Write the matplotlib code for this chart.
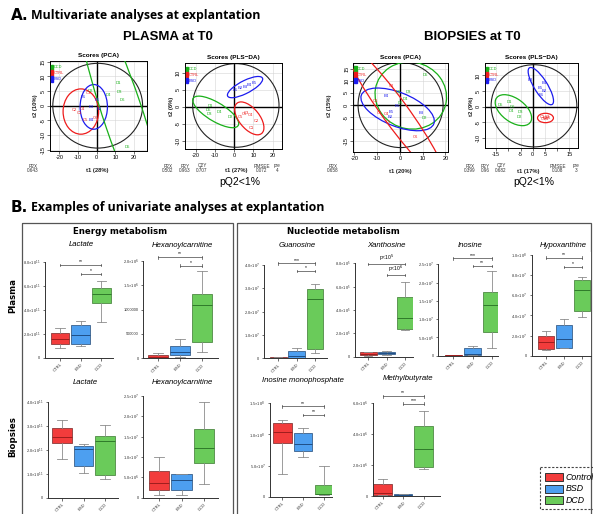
import matplotlib
matplotlib.use("Agg")
import matplotlib.pyplot as plt
from matplotlib.patches import Ellipse, Rectangle

W, H = 593, 514
fig = plt.figure(figsize=(W / 100, H / 100), dpi=100)
plt.rcParams['font.family'] = ['Liberation Sans', 'DejaVu Sans']

def R(x0, y0, x1, y1):
    return [x0 / W, 1 - y1 / H, (x1 - x0) / W, (y1 - y0) / H]

def T(x, y, s, **kw):
    fig.text(x / W, 1 - y / H, s, **kw)

GREEN_T, RED_T, BLUE_T = '#19b019', '#ee1c1c', '#1c1cee'

# ---------------- score plot data ----------------
# Plasma PCA
pp_D_x = [11.6, 12.0, 6.2, 13.8, 16.6, -3.4]
pp_D_y = [7.7, 4.8, 3.6, 2.0, -14.0, 5.2]
pp_D_l = ['D1', 'D3', 'D4', 'D6', 'D5', 'D2']
pp_C_x = [-4.5, -12.0, -7.7, -9.3, -6.3, -0.5]
pp_C_y = [4.4, -1.4, -1.0, -2.4, -4.8, -4.2]
pp_C_l = ['C3', 'C2', 'C4', 'C1', 'C5', 'C6']
pp_B_x = [-7.1, 0.0, -3.2, 1.4, -3.0]
pp_B_y = [3.0, 1.8, -0.6, -1.2, -4.8]
pp_B_l = ['B1', 'B5', 'B3', 'B2', 'B4']
# Plasma PLS-DA
pl_D_x = [-12.3, -13.5, -12.9, -7.9, -1.9]
pl_D_y = [0.3, -1.0, -2.2, -1.6, -3.0]
pl_D_l = ['D1', 'D5', 'D3', 'D4', 'D2']
pl_C_x = [3.0, 5.2, 8.4, 11.5, 8.9, 6.3]
pl_C_y = [-2.9, -2.0, -2.5, -4.2, -6.1, -1.7]
pl_C_l = ['C5', 'C6', 'C4', 'C2', 'C1', 'C3']
pl_B_x = [0.5, 3.0, 5.5, 8.0, 10.5]
pl_B_y = [4.8, 5.4, 5.9, 6.4, 7.0]
pl_B_l = ['B1', 'B2', 'B3', 'B4', 'B5']
# Biopsies PCA
bp_D_x = [11.0, -0.5, 3.5, 2.5, 0.0, 10.7]
bp_D_y = [12.4, 5.5, 5.3, 2.5, 0.8, -5.2]
bp_D_l = ['D5', 'D1', 'D3', 'D4', 'D6', 'D2']
bp_C_x = [-3.7, -10.6, -9.1, -5.9, -4.9, 7.0]
bp_C_y = [7.7, 1.8, -3.1, -3.8, -7.0, -13.0]
bp_C_l = ['C2', 'C1', 'C3', 'C4', 'C5', 'C6']
bp_B_x = [-5.9, -1.2, -4.0, -4.1, 9.3]
bp_B_y = [3.7, -0.6, -2.7, -4.9, -3.1]
bp_B_l = ['B4', 'B1', 'B5', 'B2', 'B3']
# Biopsies PLS-DA
bl_D_x = [-9.7, -13.1, -8.5, -8.7, -4.9, -5.6]
bl_D_y = [1.6, 0.4, -0.2, -1.4, -1.6, -3.4]
bl_D_l = ['D1', 'D5', 'D6', 'D4', 'D3', 'D2']
bl_C_x = [4.0, 5.0, 6.0, 5.5, 4.5, 6.5]
bl_C_y = [-3.2, -3.6, -3.3, -4.0, -3.9, -3.6]
bl_C_l = ['C1', 'C2', 'C3', 'C4', 'C5', 'C6']
bl_B_x = [-1.0, 4.5, 3.0, 4.5, 3.5]
bl_B_y = [8.5, 7.5, 6.0, 5.0, 3.8]
bl_B_l = ['B3', 'B4', 'B5', 'B2', 'B1']


def score_plot(rect_px, xlim, ylim, xticks, xtl, yticks, ytl, black, ells, groups, title):
    ax = fig.add_axes(R(*rect_px))
    ax.set_xlim(xlim)
    ax.set_ylim(ylim)
    for t in xticks:
        ax.axvline(t, color='#d4d4d4', lw=0.4, zorder=0)
    for t in yticks:
        ax.axhline(t, color='#d4d4d4', lw=0.4, zorder=0)
    ax.axhline(0, color='k', lw=1.0, zorder=1)
    ax.axvline(0, color='k', lw=1.0, zorder=1)
    cx, cy, w, h = black
    ax.add_patch(Ellipse((cx, cy), w, h, fill=False, ec='#222222', lw=0.8, zorder=2))
    for (ex, ey, ew, eh, ea, col) in ells:
        ax.add_patch(Ellipse((ex, ey), ew, eh, angle=ea, fill=False, ec=col, lw=0.9, zorder=3))
    for (xs, ys, ls, col) in groups:
        for x, y, l in zip(xs, ys, ls):
            ax.text(x, y, l, color=col, fontsize=3.0, ha='center', va='center', zorder=4)
    ax.set_xticks(xticks)
    ax.set_xticklabels(xtl, fontsize=4)
    ax.set_yticks(yticks)
    ax.set_yticklabels(ytl, fontsize=4, rotation=90, va='center')
    ax.tick_params(length=2, width=0.4, pad=1)
    for s in ax.spines.values():
        s.set_linewidth(0.7)
    ax.set_title(title, fontsize=4.6, fontweight='bold', pad=3)
    for i, (lab, col) in enumerate([('DCD', GREEN_T), ('CTRL', RED_T), ('BSD', BLUE_T)]):
        ax.add_patch(Rectangle((0.01, 0.90 - 0.065 * i), 0.025, 0.06, transform=ax.transAxes,
                               color=col, zorder=5))
        ax.text(0.04, 0.93 - 0.065 * i, lab, color=col, fontsize=2.8, transform=ax.transAxes,
                va='center', zorder=5)
    return ax

pca_xt = [-20, -10, 0, 10, 20]
score_plot((50, 61, 146.7, 151), (-25, 26.7), (-15.5, 15.3), pca_xt, [str(v) for v in pca_xt],
           [-15, -10, -5, 0, 5, 10, 15], ['-15', '-10', '-5', '0', '5', '10', '15'],
           (0.5, 0, 48, 29),
           [(-8.5, -2, 19, 15.5, 0, RED_T), (-1.6, -0.4, 14.6, 15.3, 0, BLUE_T),
            (14, -3, 20, 100, 28, GREEN_T)],
           [(pp_D_x, pp_D_y, pp_D_l, GREEN_T), (pp_C_x, pp_C_y, pp_C_l, RED_T),
            (pp_B_x, pp_B_y, pp_B_l, BLUE_T)], 'Scores (PCA)')

score_plot((185, 63.3, 281.7, 149.3), (-25.7, 24.7), (-12.5, 12.8), pca_xt, [str(v) for v in pca_xt],
           [-10, -5, 0, 5, 10], ['-10', '-5', '0', '5', '10'],
           (0.8, 0.4, 45, 24.6),
           [(5.6, 5.8, 19, 4, 15, BLUE_T), (-9.7, -1.5, 25, 6, -17, GREEN_T),
            (7.8, -3.4, 16.5, 7.4, -25, RED_T)],
           [(pl_D_x, pl_D_y, pl_D_l, GREEN_T), (pl_C_x, pl_C_y, pl_C_l, RED_T),
            (pl_B_x, pl_B_y, pl_B_l, BLUE_T)], 'Scores (PLS\u2212DA)')

score_plot((353.3, 62.7, 448.3, 151.7), (-20.5, 21.3), (-19.2, 17.4), pca_xt, [str(v) for v in pca_xt],
           [-15, -10, -5, 0, 5, 10, 15], ['-15', '', '-5', '0', '5', '10', '15'],
           (0.3, 0, 37.4, 35),
           [(4.8, 3.9, 31.6, 27.5, -10, GREEN_T), (-1, -1.8, 34, 14, -20, BLUE_T),
            (-2, -3, 70, 11, -52, RED_T)],
           [(bp_D_x, bp_D_y, bp_D_l, GREEN_T), (bp_C_x, bp_C_y, bp_C_l, RED_T),
            (bp_B_x, bp_B_y, bp_B_l, BLUE_T)], 'Scores (PCA)')

score_plot((485, 63.3, 578.3, 148.3), (-19.5, 18.6), (-13.3, 13.9),
           [-15, -10, -5, 0, 5, 10, 15], ['-15', '', '-5', '0', '5', '', '15'],
           [-10, -5, 0, 5, 10], ['-10', '-5', '0', '5', '10'],
           (0.5, 0.3, 35, 26.3),
           [(3.3, 6.6, 15, 5, -50, BLUE_T), (-7.9, -1.1, 16, 8, -25, GREEN_T),
            (5.2, -3.6, 6.5, 3, 0, RED_T)],
           [(bl_D_x, bl_D_y, bl_D_l, GREEN_T), (bl_C_x, bl_C_y, bl_C_l, RED_T),
            (bl_B_x, bl_B_y, bl_B_l, BLUE_T)], 'Scores (PLS\u2212DA)')

# axis labels / footers for score plots
small = dict(fontsize=3.3, ha='center', va='center', color='#333333')
lab = dict(fontsize=4.2, ha='center', va='center', fontweight='bold', color='#222222')
T(35, 106, 't2 (10%)', rotation=90, **lab)
T(97, 171, 't1 (28%)', **lab)
T(33, 166, 'R2X', **small); T(33, 171, '0.643', **small)
T(172, 106, 't2 (6%)', rotation=90, **lab)
T(236, 171, 't1 (27%)', **lab)
for x, a, b in [(168, 'R2X', '0.502'), (185, 'R2Y', '0.963'), (202, 'Q2Y', '0.707'),
                (262, 'RMSEE', '0.072'), (277, 'pre', '4')]:
    T(x, 166, a, **small); T(x, 171, b, **small)
T(240, 182, 'pQ2<1%', fontsize=7.5, ha='center', va='center')
T(330, 106, 't2 (15%)', rotation=90, **lab)
T(400, 172, 't1 (20%)', **lab)
T(333, 166, 'R2X', **small); T(333, 171, '0.658', **small)
T(472, 106, 't2 (9%)', rotation=90, **lab)
T(528, 172, 't1 (17%)', **lab)
for x, a, b in [(470, 'R2X', '0.399'), (485, 'R2Y', '0.96'), (501, 'Q2Y', '0.682'),
                (558, 'RMSEE', '0.108'), (576, 'pre', '3')]:
    T(x, 166, a, **small); T(x, 171, b, **small)
T(534, 182, 'pQ2<1%', fontsize=7.5, ha='center', va='center')

# headings
T(11, 16, 'A.', fontsize=11, fontweight='heavy', va='center', family=['DejaVu Sans'])
T(31, 16, 'Multivariate analyses at explantation', fontsize=8.8, fontweight='bold', va='center',
  family=['Open Sans', 'DejaVu Sans'])
T(168, 37, 'PLASMA at T0', fontsize=9.5, fontweight='bold', ha='center', va='center',
  family=['Liberation Sans Narrow', 'Liberation Sans'])
T(472, 37, 'BIOPSIES at T0', fontsize=9.5, fontweight='bold', ha='center', va='center',
  family=['Liberation Sans Narrow', 'Liberation Sans'])
T(11, 208, 'B.', fontsize=11, fontweight='heavy', va='center', family=['DejaVu Sans'])
T(31, 208, 'Examples of univariate analyses at explantation', fontsize=8.8, fontweight='bold',
  va='center', family=['Open Sans', 'DejaVu Sans'])

# section frames
frame = fig.add_axes([0, 0, 1, 1], zorder=-5)
frame.set_xlim(0, W); frame.set_ylim(H, 0); frame.axis('off')
frame.add_patch(Rectangle((22, 223), 211, 300, fill=False, ec='#555555', lw=0.9))
frame.add_patch(Rectangle((237, 223), 354, 300, fill=False, ec='#555555', lw=0.9))
frame.add_patch(Rectangle((540, 467), 60, 42, fill=False, ec='#444444', lw=0.8, ls=(0, (2, 1.5))))

T(120, 231, 'Energy metabolism', fontsize=6.2, fontweight='heavy', ha='center', va='center',
  family=['DejaVu Sans'])
T(343, 232, 'Nucleotide metabolism', fontsize=6.2, fontweight='heavy', ha='center', va='center',
  family=['DejaVu Sans'])
T(13, 296, 'Plasma', fontsize=6.2, fontweight='heavy', rotation=90, ha='center', va='center',
  family=['DejaVu Sans'])
T(13, 437, 'Biopsies', fontsize=6.2, fontweight='heavy', rotation=90, ha='center', va='center',
  family=['DejaVu Sans'])

# ---------------- box plot data ----------------
groups = ['CTRL', 'BSD', 'DCD']
# each: [whislo, q1, med, q3, whishi] for CTRL, BSD, DCD
lactate_plasma = [[0.78, 1.15, 1.55, 2.1, 2.5], [1.0, 1.15, 1.9, 2.72, 3.08], [3.0, 4.6, 5.3, 5.85, 6.4]]
hexanoyl_plasma = [[0.0, 0.01, 0.03, 0.07, 0.11], [0.035, 0.06, 0.12, 0.25, 0.39], [0.12, 0.34, 1.1, 1.32, 1.79]]
guanosine_plasma = [[0.0, 0.01, 0.02, 0.04, 0.05], [0.01, 0.03, 0.11, 0.31, 0.43], [0.24, 0.4, 2.53, 2.96, 3.17]]
xanthosine_plasma = [[0.1, 0.14, 0.26, 0.37, 0.4], [0.17, 0.2, 0.31, 0.43, 0.46], [2.29, 2.34, 3.29, 5.09, 6.37]]
inosine_plasma = [[0.0, 0.005, 0.01, 0.015, 0.02], [0.01, 0.02, 0.06, 0.2, 0.27], [0.22, 0.64, 1.4, 1.73, 2.32]]
hypoxanthine_plasma = [[0.57, 0.63, 1.4, 2.0, 2.47], [0.8, 0.8, 1.7, 3.0, 3.67], [3.8, 4.47, 6.5, 7.53, 7.83]]
lactate_biopsy = [[1.62, 2.28, 2.53, 2.91, 3.26], [1.05, 1.33, 2.06, 2.15, 2.24], [0.8, 0.97, 2.38, 2.59, 3.03]]
hexanoyl_biopsy = [[0.07, 0.19, 0.35, 0.65, 1.0], [0.065, 0.2, 0.43, 0.57, 0.59], [0.33, 0.86, 1.23, 1.68, 2.35]]
imp_biopsy = [[0.37, 0.86, 1.04, 1.18, 1.23], [0.64, 0.74, 0.85, 1.03, 1.11], [0.02, 0.04, 0.05, 0.18, 0.5]]
methylbutyrate_biopsy = [[0.04, 0.09, 0.17, 0.77, 1.08], [0.02, 0.02, 0.04, 0.1, 0.11], [1.72, 1.85, 3.01, 4.56, 5.48]]

FACE = ['#f23c3c', '#4d9ff0', '#6acb5a']
EDGE = ['#8a3a3a', '#3a5f8a', '#4f8a45']
MED = ['#9e1e1e', '#1f4f86', '#2f7a2a']


def box_panel(xl, xr, c0, sp, y0, ytop_px, ytop_val, ticks, tlabels, data, sigs, title, title_y):
    ppu = (y0 - ytop_px) / ytop_val
    ymax = ytop_val
    if sigs:
        ymax = max(ymax, max(s[2] for s in sigs) * 1.06)
    ax = fig.add_axes(R(xl, y0 - ppu * ymax, xr, y0))
    ax.set_ylim(0, ymax)
    ax.set_xlim((xl - c0) / sp, (xr - c0) / sp)
    stats = [dict(whislo=d[0], q1=d[1], med=d[2], q3=d[3], whishi=d[4], fliers=[]) for d in data]
    bp = ax.bxp(stats, positions=[0, 1, 2], widths=0.9, patch_artist=True, showfliers=False,
                whiskerprops=dict(color='#8c8c8c', lw=0.6), capprops=dict(color='#8c8c8c', lw=0.6))
    for i, b in enumerate(bp['boxes']):
        b.set_facecolor(FACE[i]); b.set_edgecolor(EDGE[i]); b.set_linewidth(0.6)
        bp['medians'][i].set_color(MED[i]); bp['medians'][i].set_linewidth(0.7)
    for (a, b, yv, lab) in sigs:
        tick = ymax * 0.012
        ax.plot([a, b], [yv, yv], color='#444444', lw=0.5, clip_on=False)
        ax.plot([a, a], [yv - tick, yv + tick], color='#444444', lw=0.5, clip_on=False)
        ax.plot([b, b], [yv - tick, yv + tick], color='#444444', lw=0.5, clip_on=False)
        ax.text((a + b) / 2, yv + ymax * 0.008, lab, fontsize=3.6, ha='center', va='bottom')
    ax.set_yticks(ticks)
    ax.set_yticklabels(tlabels, fontsize=2.9)
    ax.set_xticks([0, 1, 2])
    ax.set_xticklabels(groups, fontsize=3.0, rotation=45, ha='right', rotation_mode='anchor')
    ax.tick_params(length=1.8, width=0.5, pad=1.5, colors='#333333')
    ax.spines['top'].set_visible(False)
    ax.spines['right'].set_visible(False)
    ax.spines['left'].set_bounds(0, ytop_val)
    for s in ('left', 'bottom'):
        ax.spines[s].set_linewidth(0.7); ax.spines[s].set_color('#333333')
    T((xl + xr) / 2 + 2, title_y, title, fontsize=5.6, style='italic', ha='center', va='center')
    return ax

box_panel(45, 113, 60, 20.7, 357.7, 261.7, 8, [0, 2, 4, 6, 8],
          ['0', '2.0\u00d710$^{11}$', '4.0\u00d710$^{11}$', '6.0\u00d710$^{11}$', '8.0\u00d710$^{11}$'],
          lactate_plasma, [(0, 2, 7.7, '**'), (1, 2, 7.0, '*')], 'Lactate', 244)
box_panel(143.3, 218.3, 158.3, 21.8, 358.3, 260.7, 2.0, [0, 0.5, 1, 1.5, 2],
          ['0', '500000', '1000000', '1.5\u00d710$^{6}$', '2.0\u00d710$^{6}$'], hexanoyl_plasma,
          [(0, 2, 2.07, '**'), (1, 2, 1.9, '*')], 'Hexanoylcarnitine', 245)
box_panel(264, 327.3, 278.3, 18.3, 358.3, 265, 4, [0, 1, 2, 3, 4],
          ['0', '1.0\u00d710$^{7}$', '2.0\u00d710$^{7}$', '3.0\u00d710$^{7}$', '4.0\u00d710$^{7}$'],
          guanosine_plasma, [(0, 2, 4.07, '***'), (1, 2, 3.74, '*')], 'Guanosine', 245)
box_panel(355, 413.3, 368.3, 18.3, 356.7, 263.3, 8, [0, 2, 4, 6, 8],
          ['0', '2.0\u00d710$^{5}$', '4.0\u00d710$^{5}$', '6.0\u00d710$^{5}$', '8.0\u00d710$^{5}$'],
          xanthosine_plasma, [(0, 2, 7.94, 'p<10$^{5}$'), (1, 2, 7.0, 'p<10$^{6}$')], 'Xanthosine', 245)
box_panel(438.3, 498.3, 453.3, 19.2, 355.7, 264.3, 2.5, [0, 0.5, 1, 1.5, 2, 2.5],
          ['0', '5.0\u00d710$^{6}$', '1.0\u00d710$^{7}$', '1.5\u00d710$^{7}$', '2.0\u00d710$^{7}$', '2.5\u00d710$^{7}$'],
          inosine_plasma, [(0, 2, 2.66, '***'), (1, 2, 2.45, '**')], 'Inosine', 245)
box_panel(531.7, 591, 546, 17.8, 355.7, 255, 10, [0, 2, 4, 6, 8, 10],
          ['0', '2.0\u00d710$^{7}$', '4.0\u00d710$^{7}$', '6.0\u00d710$^{7}$', '8.0\u00d710$^{7}$', '1.0\u00d710$^{8}$'],
          hypoxanthine_plasma, [(0, 2, 9.73, '**'), (1, 2, 8.8, '*')], 'Hypoxanthine', 245)
box_panel(47.7, 118.3, 62, 21.5, 497.7, 402.3, 4, [0, 1, 2, 3, 4],
          ['0', '1.0\u00d710$^{11}$', '2.0\u00d710$^{11}$', '3.0\u00d710$^{11}$', '4.0\u00d710$^{11}$'],
          lactate_biopsy, [], 'Lactate', 383)
box_panel(143.3, 218.3, 159, 22.5, 497.7, 395.7, 2.5, [0, 0.5, 1, 1.5, 2, 2.5],
          ['0', '5.0\u00d710$^{6}$', '1.0\u00d710$^{7}$', '1.5\u00d710$^{7}$', '2.0\u00d710$^{7}$', '2.5\u00d710$^{7}$'],
          hexanoyl_biopsy, [], 'Hexanoylcarnitine', 383)
box_panel(270, 331.7, 282.3, 20.8, 496.7, 403.3, 1.5, [0, 0.5, 1, 1.5],
          ['0', '5.0\u00d710$^{7}$', '1.0\u00d710$^{8}$', '1.5\u00d710$^{8}$'],
          imp_biopsy, [(0, 2, 1.45, '**'), (1, 2, 1.31, '**')], 'Inosine monophosphate', 380)
box_panel(372.7, 440, 382.7, 20.5, 496, 403.3, 6, [0, 2, 4, 6],
          ['0', '2.0\u00d710$^{6}$', '4.0\u00d710$^{6}$', '6.0\u00d710$^{6}$'],
          methylbutyrate_biopsy, [(0, 2, 6.45, '**'), (1, 2, 5.98, '***')], 'Methylbutyrate', 379)

# legend
for i, (name, fc, ec) in enumerate([('Control', FACE[0], EDGE[0]), ('BSD', FACE[1], EDGE[1]),
                                    ('DCD', FACE[2], EDGE[2])]):
    yy = 473 + 11.5 * i
    frame.add_patch(Rectangle((545, yy), 18, 8, fc=fc, ec='#333333', lw=0.7))
    frame.text(566, yy + 4.3, name, fontsize=6.3, style='italic', va='center', ha='left')

fig.savefig('out.png', dpi=100)
